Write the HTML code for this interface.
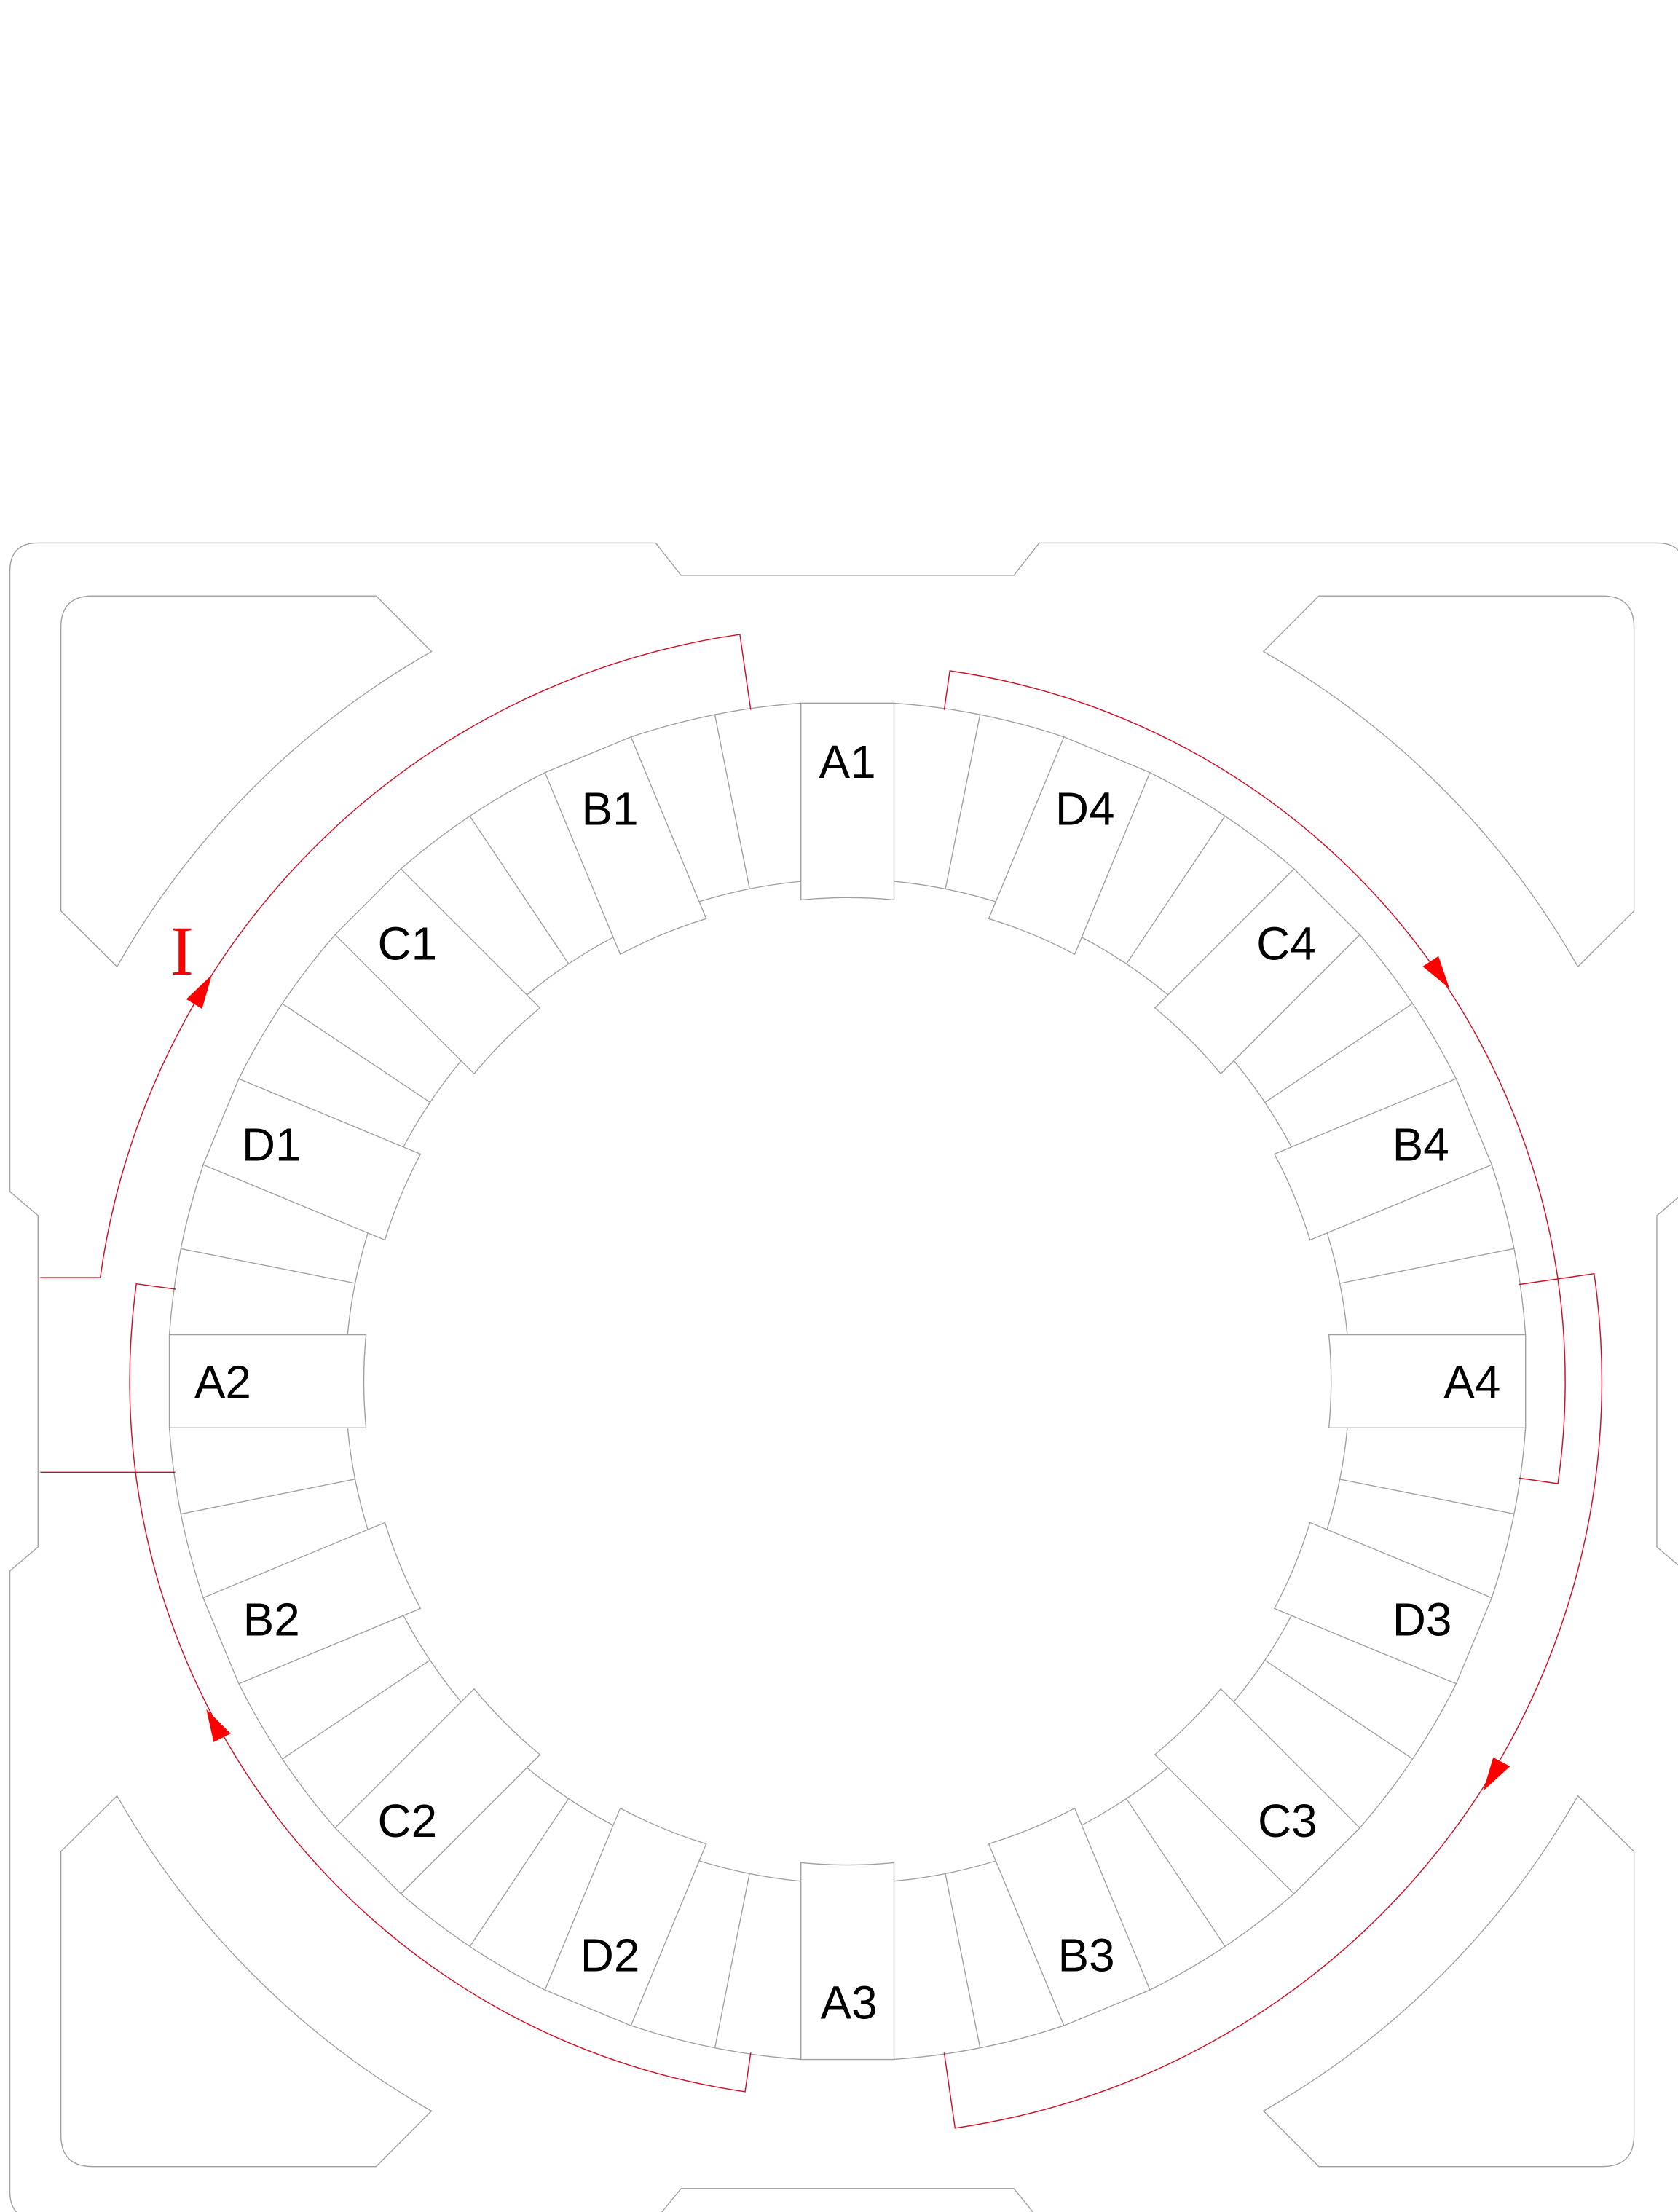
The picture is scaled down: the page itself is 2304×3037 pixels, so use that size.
<!DOCTYPE html>
<html><head><meta charset="utf-8"><style>
html,body{margin:0;padding:0;background:#fff;}
svg{display:block;}
</style></head><body>
<svg width="2304" height="3037" viewBox="0 0 1190 1568.6" preserveAspectRatio="none" xmlns="http://www.w3.org/2000/svg">
<defs>
<g id="cell" fill="none" stroke="#a0a0a0" stroke-width="0.7">
  <path d="M -33,-480.9 L 33,-480.9 L 33,-341.4 A 343 343 0 0 0 -33,-341.4 Z"/>
  <path d="M 33.04,-480.87 A 482 482 0 0 1 153.5,-456.9"/>
  <path d="M 33.0,-354.5 A 356 356 0 0 1 105.2,-340.1"/>
  <path d="M 69.5,-349.2 L 94.0,-472.7"/>
</g>
<path id="corner" d="M 43.2,646 L 43.2,445 Q 43.2,422.6 65.6,422.6 L 266.7,422.6 L 306,462 A 596 596 0 0 0 83,685.5 Z" fill="none" stroke="#a0a0a0" stroke-width="0.7"/>
</defs>

<path d="M 7,405 Q 7,385 27,385 L 465,385 L 483,408 L 719,408 L 737,385 L 1175,385 Q 1195,385 1195,405 L 1195,845 L 1175,862 L 1175,1097 L 1195,1114 L 1195,1554 Q 1195,1574 1175,1574 L 737,1574 L 719,1552 L 483,1552 L 465,1574 L 27,1574 Q 7,1574 7,1554 L 7,1114 L 27,1097 L 27,862 L 7,845 Z" fill="none" stroke="#a0a0a0" stroke-width="0.7"/>

<use href="#corner"/>
<use href="#corner" transform="translate(1202,0) scale(-1,1)"/>
<use href="#corner" transform="translate(0,1959) scale(1,-1)"/>
<use href="#corner" transform="translate(1202,1959) scale(-1,-1)"/>

<g transform="translate(601,979.5)">
<use href="#cell"/>
<use href="#cell" transform="rotate(22.5)"/>
<use href="#cell" transform="rotate(45)"/>
<use href="#cell" transform="rotate(67.5)"/>
<use href="#cell" transform="rotate(90)"/>
<use href="#cell" transform="rotate(112.5)"/>
<use href="#cell" transform="rotate(135)"/>
<use href="#cell" transform="rotate(157.5)"/>
<use href="#cell" transform="rotate(180)"/>
<use href="#cell" transform="rotate(202.5)"/>
<use href="#cell" transform="rotate(225)"/>
<use href="#cell" transform="rotate(247.5)"/>
<use href="#cell" transform="rotate(270)"/>
<use href="#cell" transform="rotate(292.5)"/>
<use href="#cell" transform="rotate(315)"/>
<use href="#cell" transform="rotate(337.5)"/>
</g>

<g fill="none" stroke="#d0102a" stroke-width="0.75">
  <path d="M 28.6,906 L 71.1,906 A 535 535 0 0 1 524.7,449.9 L 532.4,503.4"/>
  <path d="M 124.5,914.2 L 96.7,910.4 A 509 509 0 0 0 528.4,1483.3 L 532.4,1455.6"/>
  <path d="M 28.6,1044 L 124.3,1044"/>
  <path d="M 669.6,503.4 L 673.6,475.7 A 509 509 0 0 1 1104.8,1052.1 L 1077.1,1048.1"/>
  <path d="M 1077.1,910.9 L 1130.5,903.2 A 535 535 0 0 1 677.3,1509.1 L 669.6,1455.6"/>
</g>
<g fill="#ff0000" stroke="none">
  <polygon points="150.3,691.2 143.3,715.4 132.1,708.6"/>
  <polygon points="146.3,1212.1 151.5,1235.4 163.6,1229.3"/>
  <polygon points="1027.9,700.8 1008.9,685.3 1020.1,678"/>
  <polygon points="1052,1269.8 1058.9,1246.2 1070.9,1252.6"/>
</g>
<text x="129" y="691" font-family="Liberation Serif, serif" font-size="50" fill="#ff0000" text-anchor="middle">I</text>

<g font-family="Liberation Sans, Arial, sans-serif" font-size="33" fill="#000" text-anchor="middle">
<text x="601" y="551.5">A1</text>
<text x="769.4" y="585">D4</text>
<text x="912.1" y="680.4">C4</text>
<text x="1007.5" y="823.1">B4</text>
<text x="1044" y="991.5">A4</text>
<text x="1008.5" y="1159.9">D3</text>
<text x="913.1" y="1302.6">C3</text>
<text x="770.4" y="1398">B3</text>
<text x="602" y="1431.5">A3</text>
<text x="432.6" y="1398">D2</text>
<text x="288.9" y="1302.6">C2</text>
<text x="192.5" y="1159.9">B2</text>
<text x="158" y="991.5">A2</text>
<text x="192.5" y="823.1">D1</text>
<text x="288.9" y="680.4">C1</text>
<text x="432.6" y="585">B1</text>
</g>
</svg>
</body></html>
